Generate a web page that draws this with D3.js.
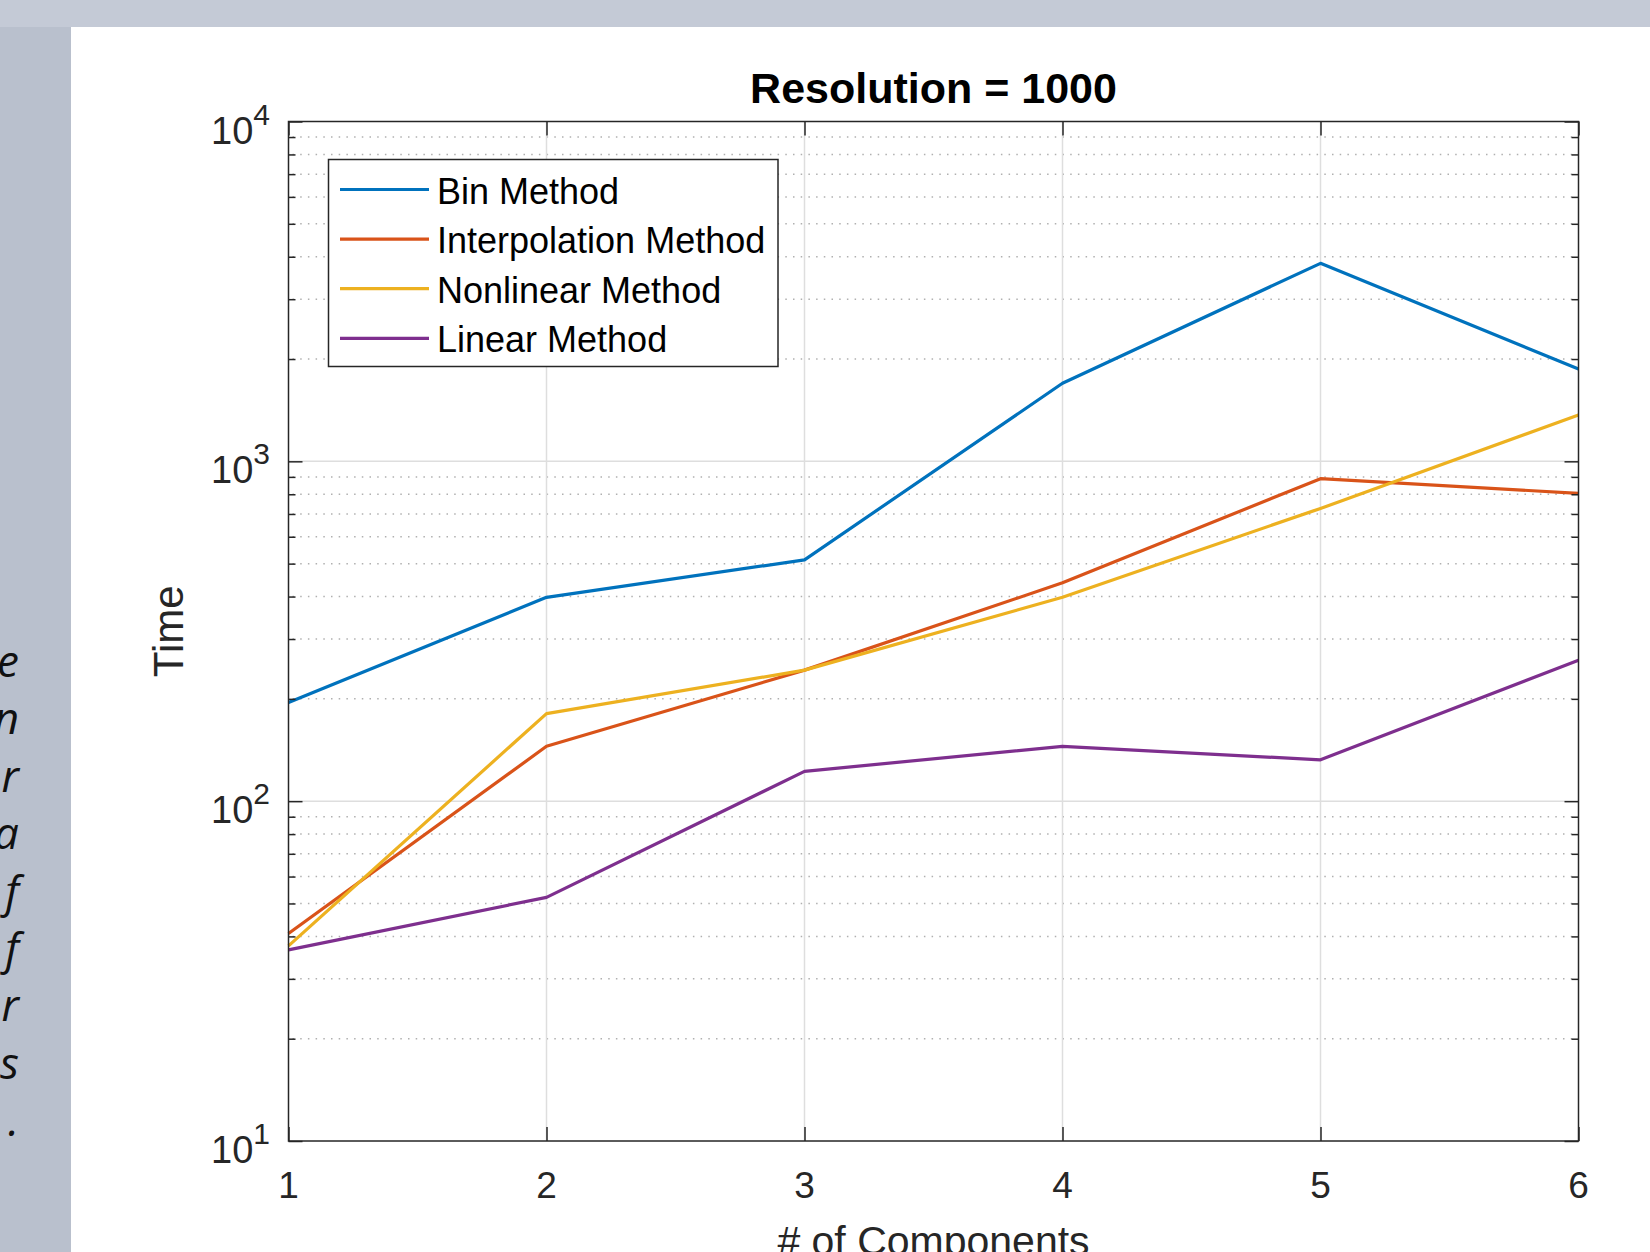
<!DOCTYPE html>
<html>
<head>
<meta charset="utf-8">
<script src="https://cdn.jsdelivr.net/npm/d3@7"></script>
<style>
  html, body { margin: 0; padding: 0; background: #c4cad6; }
  svg { display: block; }
</style>
</head>
<body>
<svg id="chart" width="1650" height="1252"></svg>
<script>
// ---- data ----
const components = [1, 2, 3, 4, 5, 6];
const seriesNames = ['Bin Method', 'Interpolation Method', 'Nonlinear Method', 'Linear Method'];
const binTimes = [195, 398, 513, 1697, 3825, 1869];
const interpTimes = [40.8, 145, 243, 439, 889, 805];
const nonlinearTimes = [37.5, 181, 243, 398, 727, 1368];
const linearTimes = [36.5, 52.1, 122.4, 145, 132.3, 260];
const yDecades = [10, 100, 1000, 10000];
const titleText = 'Resolution = 1000';
const xLabelText = '# of Components';
const yLabelText = 'Time';
// clipped ends of the page text on the left strip
const sideFragments = ['e', 'n', 'r', 'a', 'f', 'f', 'r', 's', '.'];

const colors = ['#0072bd', '#d95319', '#edb120', '#7e2f8e'];
const series = [binTimes, interpTimes, nonlinearTimes, linearTimes];

const svg = d3.select('#chart');
const axisColor = '#262626';
const font = '"Liberation Sans", Arial, Helvetica, sans-serif';

// page background pieces
svg.append('rect').attr('x', 0).attr('y', 27).attr('width', 71).attr('height', 1225).attr('fill', '#b9c0cd');

svg.append('g')
  .selectAll('text')
  .data(sideFragments)
  .join('text')
    .attr('x', 19)
    .attr('y', (d, i) => 677 + i * 57.4)
    .attr('text-anchor', 'end')
    .attr('font-family', '"Open Sans", "Noto Sans", sans-serif')
    .attr('font-style', 'italic')
    .attr('font-size', 44)
    .attr('fill', '#111')
    .text(d => d);

svg.append('rect').attr('x', 71).attr('y', 27).attr('width', 1579).attr('height', 1225).attr('fill', '#ffffff');

// plot box
const plotL = 288.5, plotR = 1578.5, plotT = 121.5, plotB = 1141;
const x = d3.scaleLinear([1, 6], [plotL, plotR]);
const y = d3.scaleLog([10, 10000], [plotB, plotT]);

const minorVals = [];
yDecades.slice(0, -1).forEach(d => {
  for (let k = 2; k <= 9; k++) minorVals.push(d * k);
});

// grid
const grid = svg.append('g');
grid.selectAll('.minor-grid')
  .data(minorVals)
  .join('line')
    .attr('class', 'minor-grid')
    .attr('x1', plotL + 4).attr('x2', plotR)
    .attr('y1', d => y(d)).attr('y2', d => y(d))
    .attr('stroke', '#b0b0b0')
    .attr('stroke-width', 1.5)
    .attr('stroke-dasharray', '1.5 6.2');
grid.selectAll('.major-grid-y')
  .data(yDecades.slice(1, -1))
  .join('line')
    .attr('class', 'major-grid-y')
    .attr('x1', plotL).attr('x2', plotR)
    .attr('y1', d => y(d)).attr('y2', d => y(d))
    .attr('stroke', '#dedede')
    .attr('stroke-width', 1.5);
grid.selectAll('.major-grid-x')
  .data(components.slice(1, -1))
  .join('line')
    .attr('class', 'major-grid-x')
    .attr('x1', d => x(d)).attr('x2', d => x(d))
    .attr('y1', plotT).attr('y2', plotB)
    .attr('stroke', '#dedede')
    .attr('stroke-width', 1.5);

// lines
const line = d3.line()
  .x((d, i) => x(components[i]))
  .y(d => y(d));

svg.append('g')
  .selectAll('path')
  .data(series)
  .join('path')
    .attr('d', d => line(d))
    .attr('fill', 'none')
    .attr('stroke', (d, i) => colors[i])
    .attr('stroke-width', 3.2)
    .attr('stroke-linejoin', 'round');

// axes ticks (inward)
function tickAxis(axis, transform) {
  const g = svg.append('g').attr('transform', transform).call(axis);
  g.select('.domain').remove();
  g.selectAll('line').attr('stroke', axisColor).attr('stroke-width', 1.5);
  g.selectAll('text').remove();
  return g;
}
tickAxis(d3.axisBottom(x).tickValues(components).tickSize(-14).tickFormat(''), `translate(0,${plotB})`);
tickAxis(d3.axisTop(x).tickValues(components).tickSize(-14).tickFormat(''), `translate(0,${plotT})`);
tickAxis(d3.axisLeft(y).tickValues(yDecades).tickSize(-14).tickFormat(''), `translate(${plotL},0)`);
tickAxis(d3.axisLeft(y).tickValues(minorVals).tickSize(-7).tickFormat(''), `translate(${plotL},0)`);
tickAxis(d3.axisRight(y).tickValues(yDecades).tickSize(-14).tickFormat(''), `translate(${plotR},0)`);
tickAxis(d3.axisRight(y).tickValues(minorVals).tickSize(-7).tickFormat(''), `translate(${plotR},0)`);

svg.append('rect')
  .attr('x', plotL).attr('y', plotT)
  .attr('width', plotR - plotL).attr('height', plotB - plotT)
  .attr('fill', 'none')
  .attr('stroke', axisColor)
  .attr('stroke-width', 1.5);

// tick labels
svg.append('g')
  .selectAll('text')
  .data(components)
  .join('text')
    .attr('x', d => x(d))
    .attr('y', 1198)
    .attr('text-anchor', 'middle')
    .attr('font-family', font)
    .attr('font-size', 37)
    .attr('fill', axisColor)
    .text(d => d);

const yLabels = svg.append('g')
  .selectAll('text')
  .data(yDecades)
  .join('text')
    .attr('x', 270)
    .attr('y', d => y(d) + 22)
    .attr('text-anchor', 'end')
    .attr('font-family', font)
    .attr('font-size', 38)
    .attr('fill', axisColor);
yLabels.append('tspan').text('10');
yLabels.append('tspan')
  .attr('dy', -19)
  .attr('font-size', 30)
  .text(d => Math.round(Math.log10(d)));

// titles
svg.append('text')
  .attr('x', (plotL + plotR) / 2)
  .attr('y', 103)
  .attr('text-anchor', 'middle')
  .attr('font-family', font)
  .attr('font-weight', 'bold')
  .attr('font-size', 43)
  .attr('fill', '#000')
  .text(titleText);

svg.append('text')
  .attr('x', (plotL + plotR) / 2)
  .attr('y', 1255)
  .attr('text-anchor', 'middle')
  .attr('font-family', font)
  .attr('font-size', 41)
  .attr('fill', axisColor)
  .text(xLabelText);

svg.append('text')
  .attr('transform', `translate(183,${(plotT + plotB) / 2}) rotate(-90)`)
  .attr('text-anchor', 'middle')
  .attr('font-family', font)
  .attr('font-size', 42)
  .attr('fill', axisColor)
  .text(yLabelText);

// legend
const legend = svg.append('g');
legend.append('rect')
  .attr('x', 328.5).attr('y', 159.5)
  .attr('width', 449.5).attr('height', 207)
  .attr('fill', '#fff')
  .attr('stroke', axisColor)
  .attr('stroke-width', 1.5);
const rows = legend.selectAll('.legend-row')
  .data(seriesNames)
  .join('g')
    .attr('class', 'legend-row')
    .attr('transform', (d, i) => `translate(0,${189.5 + i * 49.6})`);
rows.append('line')
  .attr('x1', 340).attr('x2', 429)
  .attr('stroke', (d, i) => colors[i])
  .attr('stroke-width', 3.2);
rows.append('text')
  .attr('x', 437)
  .attr('y', 14)
  .attr('font-family', font)
  .attr('font-size', 36)
  .attr('fill', '#000')
  .text(d => d);
</script>
</body>
</html>
